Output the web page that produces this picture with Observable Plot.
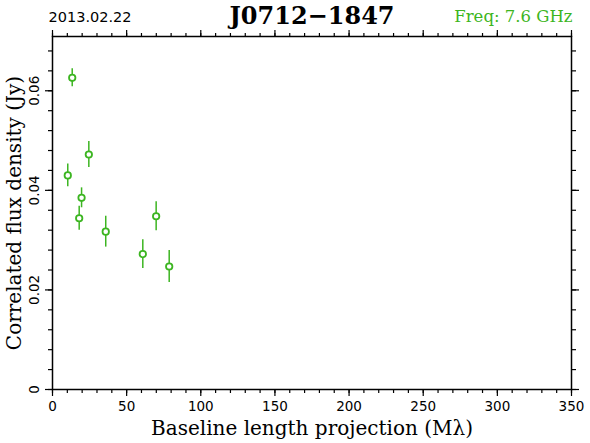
<!DOCTYPE html>
<html>
<head>
<meta charset="utf-8">
<script src="https://cdn.jsdelivr.net/npm/d3@7"></script>
<script src="https://cdn.jsdelivr.net/npm/@observablehq/plot@0.6"></script>
<style>
  html, body { margin: 0; padding: 0; background: #fff; }
  svg { display: block; }
</style>
</head>
<body>
<div id="chart"></div>
<script>
const baseline = [13.3, 10.3, 24.5, 19.6, 18.0, 35.9, 60.9, 69.9, 78.7];
const flux     = [0.0626, 0.0430, 0.0472, 0.0385, 0.0344, 0.0317, 0.0272, 0.0348, 0.0247];
const fluxErr  = [0.0018, 0.0023, 0.0026, 0.0020, 0.0024, 0.0031, 0.0029, 0.0029, 0.0032];
const xMajor = [0, 50, 100, 150, 200, 250, 300, 350];
const xMinor = d3.range(0, 351, 10);
const yMajor = [0, 0.02, 0.04, 0.06];
const yMinor = d3.range(0, 0.0709, 0.004);
const yTickLabels = ["0", "0.02", "0.04", "0.06"];
const dateText = "2013.02.22";
const titleText = "J0712\u22121847";
const freqText = "Freq: 7.6 GHz";
const xLabel = "Baseline length projection (M\u03bb)";
const yLabel = "Correlated flux density (Jy)";

const green = "#3cb521";
const data = baseline.map((b, i) => ({b, f: flux[i], lo: flux[i] - fluxErr[i], hi: flux[i] + fluxErr[i]}));
const yTicks = yMajor.map((v, i) => ({v, t: yTickLabels[i]}));

const sans = "DejaVu Sans";
const serif = "DejaVu Serif";
const tickOpts = {label: null, fill: "none", stroke: "#000", strokeWidth: 1.2};

const chart = Plot.plot({
  width: 590,
  height: 443,
  marginLeft: 52,
  marginRight: 19,
  marginTop: 36,
  marginBottom: 54,
  style: {background: "#fff", color: "#000"},
  x: {domain: [0, 350]},
  y: {domain: [0, 0.0709]},
  marks: [
    // minor ticks all four sides
    Plot.axisX(xMinor, {anchor: "bottom", tickSize: 4, ...tickOpts}),
    Plot.axisX(xMinor, {anchor: "top", tickSize: 4, ...tickOpts}),
    Plot.axisY(yMinor, {anchor: "left", tickSize: 4, ...tickOpts}),
    Plot.axisY(yMinor, {anchor: "right", tickSize: 4, ...tickOpts}),
    // major ticks
    Plot.axisX(xMajor, {anchor: "top", tickSize: 7, ...tickOpts}),
    Plot.axisY(yMajor, {anchor: "left", tickSize: 7, ...tickOpts}),
    Plot.axisY(yMajor, {anchor: "right", tickSize: 7, ...tickOpts}),
    Plot.axisX(xMajor, {anchor: "bottom", tickSize: 7, tickPadding: 5, label: null, fontSize: 13.5, fontFamily: sans, strokeWidth: 1.2}),
    Plot.text(yTicks, {x: 0, y: "v", text: "t", rotate: -90, dx: -18, textAnchor: "middle", lineAnchor: "middle", fontSize: 13.5, fontFamily: sans, fill: "#000"}),
    Plot.frame({stroke: "#000", strokeWidth: 1.5}),
    // data
    Plot.ruleX(data, {x: "b", y1: "lo", y2: "hi", stroke: green, strokeWidth: 1.5}),
    Plot.dot(data, {x: "b", y: "f", r: 3.2, stroke: green, strokeWidth: 1.8, fill: "#fff"}),
    // titles
    Plot.text([dateText], {frameAnchor: "top-left", text: d => d, dx: -4, dy: -15, textAnchor: "start", lineAnchor: "bottom", fontSize: 14.5, fontFamily: sans, fill: "#000"}),
    Plot.text([titleText], {frameAnchor: "top", text: d => d, dy: -13, lineAnchor: "bottom", fontSize: 24, fontWeight: "bold", fontFamily: serif, fill: "#000"}),
    Plot.text([freqText], {frameAnchor: "top-right", text: d => d, dx: 1, dy: -15, textAnchor: "end", lineAnchor: "bottom", fontSize: 16.5, fontFamily: serif, fill: green}),
    Plot.text([xLabel], {frameAnchor: "bottom", text: d => d, dy: 45, lineAnchor: "bottom", fontSize: 20, fontFamily: serif, fill: "#000"}),
    Plot.text([yLabel], {frameAnchor: "left", text: d => d, dx: -38, rotate: -90, textAnchor: "middle", lineAnchor: "middle", fontSize: 20, fontFamily: serif, fill: "#000"})
  ]
});
document.getElementById("chart").appendChild(chart);
</script>
</body>
</html>
